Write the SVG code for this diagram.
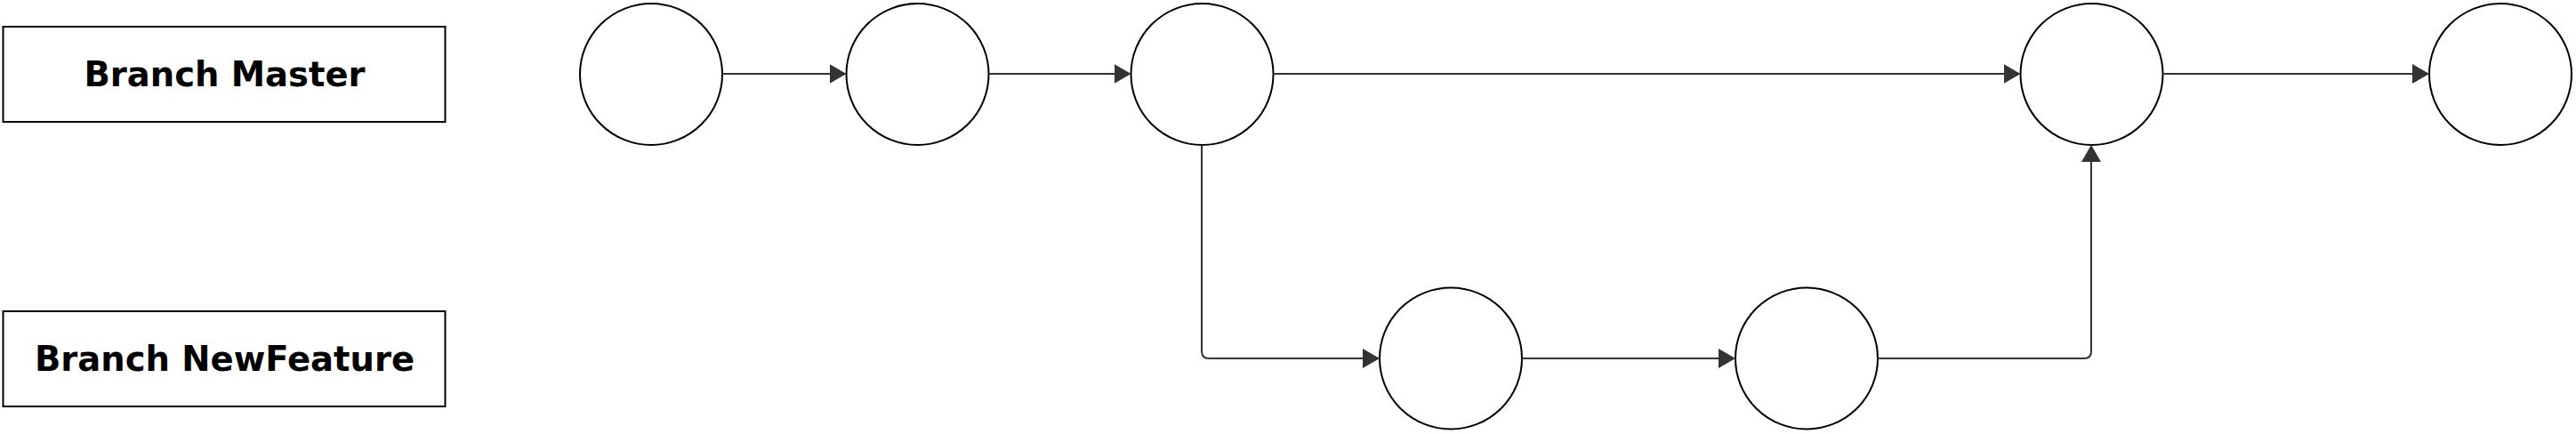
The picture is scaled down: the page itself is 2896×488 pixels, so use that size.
<svg xmlns="http://www.w3.org/2000/svg" width="2896" height="488" viewBox="0 0 2896 488">
<style>
.lbl rect{fill:#fff;stroke:#000;stroke-width:2}
.lbl text{font-family:"DejaVu Sans",sans-serif;font-weight:bold;font-size:38.5px;fill:#000;text-anchor:middle}
.commit ellipse{fill:#fff;stroke:#000;stroke-width:2}
.edge{fill:none;stroke:#333;stroke-width:2}
</style>
<defs>
<marker id="arr" markerUnits="userSpaceOnUse" markerWidth="20" markerHeight="22" refX="19" refY="11" orient="auto" viewBox="0 0 20 22">
<path d="M0,0 L19,11 L0,22 Z" fill="#333"/>
</marker>
</defs>
<rect width="2896" height="488" fill="#fff"/>
<g id="label-master" class="lbl"><rect x="3.5" y="30" width="497" height="107"/><text x="252.5" y="97">Branch Master</text></g>
<g id="label-newfeature" class="lbl"><rect x="3.5" y="350" width="497" height="107"/><text x="252.5" y="417">Branch NewFeature</text></g>
<g id="m1" class="commit"><ellipse cx="732" cy="83.5" rx="80" ry="79.5"/></g>
<g id="m2" class="commit"><ellipse cx="1031.5" cy="83.5" rx="80" ry="79.5"/></g>
<g id="m3" class="commit"><ellipse cx="1351.5" cy="83.5" rx="80" ry="79.5"/></g>
<g id="m4" class="commit"><ellipse cx="2351.5" cy="83.5" rx="80" ry="79.5"/></g>
<g id="m5" class="commit"><ellipse cx="2811" cy="83.5" rx="80" ry="79.5"/></g>
<g id="f1" class="commit"><ellipse cx="1631" cy="403" rx="80" ry="79.5"/></g>
<g id="f2" class="commit"><ellipse cx="2031" cy="403" rx="80" ry="79.5"/></g>
<g id="connectors">
<path class="edge" d="M812,83 L951.5,83" marker-end="url(#arr)"/>
<path class="edge" d="M1111.5,83 L1271.5,83" marker-end="url(#arr)"/>
<path class="edge" d="M1431.5,83 L2271.5,83" marker-end="url(#arr)"/>
<path class="edge" d="M2431.5,83 L2731,83" marker-end="url(#arr)"/>
<path class="edge" d="M1351,163 L1351,395 Q1351,403 1359,403 L1551,403" marker-end="url(#arr)"/>
<path class="edge" d="M1711,403 L1951,403" marker-end="url(#arr)"/>
<path class="edge" d="M2111,403 L2343,403 Q2351,403 2351,395 L2351,163" marker-end="url(#arr)"/>
</g>
</svg>
